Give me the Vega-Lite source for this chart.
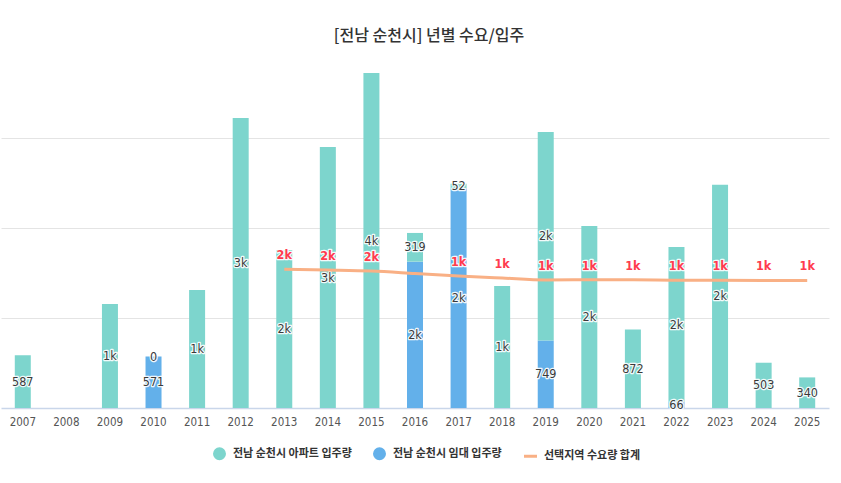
{
  "$schema": "https://vega.github.io/schema/vega-lite/v6.json",
  "width": 828,
  "height": 360,
  "autosize": "none",
  "padding": {"left": 1, "top": 48, "right": 12, "bottom": 75},
  "background": "white",
  "title": {
    "text": "[전남 순천시] 년별 수요/입주",
    "font": "Noto Sans CJK KR",
    "fontSize": 16,
    "fontWeight": 500,
    "color": "#333333",
    "anchor": "middle",
    "frame": "group",
    "dx": 14,
    "offset": 4
  },
  "datasets": {
    "supply": [
      {"year": "2007", "series": "전남 순천시 아파트 입주량", "v": 587},
      {"year": "2009", "series": "전남 순천시 아파트 입주량", "v": 1156},
      {"year": "2010", "series": "전남 순천시 임대 입주량", "v": 571},
      {"year": "2010", "series": "전남 순천시 아파트 입주량", "v": 0},
      {"year": "2011", "series": "전남 순천시 아파트 입주량", "v": 1311},
      {"year": "2012", "series": "전남 순천시 아파트 입주량", "v": 3222},
      {"year": "2013", "series": "전남 순천시 아파트 입주량", "v": 1756},
      {"year": "2014", "series": "전남 순천시 아파트 입주량", "v": 2900},
      {"year": "2015", "series": "전남 순천시 아파트 입주량", "v": 3722},
      {"year": "2016", "series": "전남 순천시 임대 입주량", "v": 1626},
      {"year": "2016", "series": "전남 순천시 아파트 입주량", "v": 319},
      {"year": "2017", "series": "전남 순천시 임대 입주량", "v": 2440},
      {"year": "2017", "series": "전남 순천시 아파트 입주량", "v": 52},
      {"year": "2018", "series": "전남 순천시 아파트 입주량", "v": 1356},
      {"year": "2019", "series": "전남 순천시 임대 입주량", "v": 749},
      {"year": "2019", "series": "전남 순천시 아파트 입주량", "v": 2318},
      {"year": "2020", "series": "전남 순천시 아파트 입주량", "v": 2022},
      {"year": "2021", "series": "전남 순천시 아파트 입주량", "v": 872},
      {"year": "2022", "series": "전남 순천시 임대 입주량", "v": 66},
      {"year": "2022", "series": "전남 순천시 아파트 입주량", "v": 1723},
      {"year": "2023", "series": "전남 순천시 아파트 입주량", "v": 2480},
      {"year": "2024", "series": "전남 순천시 아파트 입주량", "v": 503},
      {"year": "2025", "series": "전남 순천시 아파트 입주량", "v": 340}
    ],
    "demand": [
      {"year": "2013", "demand": 1541},
      {"year": "2014", "demand": 1533},
      {"year": "2015", "demand": 1522},
      {"year": "2016", "demand": 1495},
      {"year": "2017", "demand": 1467},
      {"year": "2018", "demand": 1444},
      {"year": "2019", "demand": 1422},
      {"year": "2020", "demand": 1425},
      {"year": "2021", "demand": 1424},
      {"year": "2022", "demand": 1420},
      {"year": "2023", "demand": 1420},
      {"year": "2024", "demand": 1418},
      {"year": "2025", "demand": 1418}
    ]
  },
  "config": {
    "view": {"stroke": null},
    "font": "Noto Sans CJK KR",
    "axisY": {"labels": false, "ticks": false, "domain": false, "gridColor": "#e4e4e4", "gridWidth": 1},
    "axisX": {
      "labelAngle": 0,
      "ticks": false,
      "grid": false,
      "domainColor": "#c9d6ea",
      "domainWidth": 1.5,
      "labelColor": "#555555",
      "labelFont": "Liberation Sans Narrow, DejaVu Sans Condensed, Noto Sans CJK KR",
      "labelFontSize": 11.5,
      "labelPadding": 8
    }
  },
  "encoding": {
    "x": {
      "field": "year",
      "type": "ordinal",
      "title": null,
      "scale": {
        "domain": ["2007", "2008", "2009", "2010", "2011", "2012", "2013", "2014", "2015", "2016", "2017", "2018", "2019", "2020", "2021", "2022", "2023", "2024", "2025"],
        "paddingInner": 0,
        "paddingOuter": 0
      }
    }
  },
  "layer": [
    {
      "data": {"name": "supply"},
      "transform": [
        {"stack": "v", "groupby": ["year"], "sort": [{"field": "series", "order": "descending"}], "as": ["v0", "v1"]}
      ],
      "mark": {"type": "bar", "width": 16},
      "encoding": {
        "y": {"field": "v1", "type": "quantitative", "title": null, "scale": {"domain": [0, 4000]}, "axis": {"values": [1000, 2000, 3000], "grid": true}},
        "y2": {"field": "v0"},
        "color": {
          "field": "series",
          "type": "nominal",
          "scale": {
            "domain": ["전남 순천시 아파트 입주량", "전남 순천시 임대 입주량", "선택지역 수요량 합계"],
            "range": ["#7dd5cd", "#63b0ea", "#f9b085"]
          },
          "legend": {
            "title": null,
            "orient": "none",
            "direction": "horizontal",
            "legendX": 212,
            "legendY": 399,
            "padding": 0,
            "columnPadding": 16,
            "symbolSize": 100,
            "labelFont": "Noto Sans CJK KR",
            "labelFontSize": 11,
            "labelFontWeight": "bold",
            "labelColor": "#333333",
            "labelOffset": 7,
            "encode": {
              "symbols": {
                "update": {
                  "shape": {"signal": "datum.value === '선택지역 수요량 합계' ? 'stroke' : 'circle'"},
                  "fill": {"signal": "datum.value === '선택지역 수요량 합계' ? 'transparent' : scale('color', datum.value)"},
                  "stroke": {"signal": "datum.value === '선택지역 수요량 합계' ? '#f9b085' : 'transparent'"},
                  "strokeWidth": {"value": 3},
                  "opacity": {"value": 1},
                  "size": {"signal": "datum.value === '선택지역 수요량 합계' ? 169 : 100"}
                }
              }
            }
          }
        }
      }
    },
    {
      "data": {"name": "supply"},
      "transform": [
        {"stack": "v", "groupby": ["year"], "sort": [{"field": "series", "order": "descending"}], "as": ["v0", "v1"]},
        {"fold": ["v0", "v1"], "as": ["edge", "pos"]},
        {"aggregate": [{"op": "mean", "field": "pos", "as": "mid"}], "groupby": ["year", "series", "v"]}
      ],
      "encoding": {
        "y": {"field": "mid", "type": "quantitative", "title": null},
        "text": {
          "condition": {"test": "datum.v >= 1000", "field": "v", "type": "quantitative", "format": ".1s"},
          "field": "v",
          "type": "quantitative",
          "format": "d"
        }
      },
      "layer": [
        {
          "mark": {"type": "text", "font": "Liberation Sans Narrow, DejaVu Sans Condensed, Noto Sans CJK KR", "fontSize": 12.5, "baseline": "middle", "align": "center", "fill": "white", "stroke": "white", "strokeWidth": 2.5, "strokeJoin": "round", "opacity": 0.9}
        },
        {
          "mark": {"type": "text", "font": "Liberation Sans Narrow, DejaVu Sans Condensed, Noto Sans CJK KR", "fontSize": 12.5, "fontWeight": 500, "baseline": "middle", "align": "center", "color": "#3a3a3a"}
        }
      ]
    },
    {
      "data": {"name": "demand"},
      "mark": {"type": "line", "strokeWidth": 3, "interpolate": "monotone"},
      "encoding": {
        "y": {"field": "demand", "type": "quantitative", "title": null},
        "color": {"datum": "선택지역 수요량 합계"}
      }
    },
    {
      "data": {"name": "demand"},
      "transform": [{"filter": "datum.year !== '2016'"}],
      "encoding": {
        "y": {"field": "demand", "type": "quantitative", "title": null},
        "text": {
          "condition": {"test": "datum.demand >= 1000", "field": "demand", "type": "quantitative", "format": ".1s"},
          "field": "demand",
          "type": "quantitative",
          "format": "d"
        }
      },
      "layer": [
        {
          "mark": {"type": "text", "font": "Liberation Sans Narrow, DejaVu Sans Condensed, Noto Sans CJK KR", "fontSize": 12.5, "fontWeight": "bold", "baseline": "middle", "align": "center", "dy": -14, "fill": "white", "stroke": "white", "strokeWidth": 2.5, "strokeJoin": "round", "opacity": 0.9}
        },
        {
          "mark": {"type": "text", "font": "Liberation Sans Narrow, DejaVu Sans Condensed, Noto Sans CJK KR", "fontSize": 12.5, "fontWeight": "bold", "baseline": "middle", "align": "center", "dy": -14, "color": "#ff3b4e"}
        }
      ]
    }
  ]
}
